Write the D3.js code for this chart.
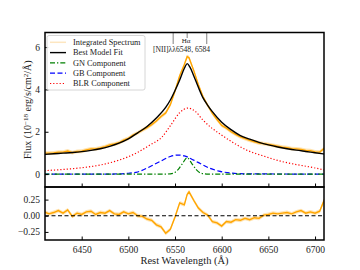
<!DOCTYPE html>
<html>
<head>
<meta charset="utf-8">
<script src="https://cdn.jsdelivr.net/npm/d3@7"></script>
<style>
  body { margin: 0; background: #fff; }
  svg text { font-family: "Liberation Serif", "DejaVu Serif", serif; fill: #222; }
</style>
</head>
<body>
<div class="chart"></div>
<script>
// observed spectrum + residuals (rest wavelength grid)
var specWave = [6410,6415,6420,6425,6430,6435,6440,6445,6450,6455,6460,6465,6470,6475,6480,6485,6490,6495,6500,6505,
  6510,6515,6520,6525,6530,6535,6540,6545,6550,6555,6560,6563,6565,6570,6575,6580,6585,6590,6595,6600,
  6605,6610,6615,6620,6625,6630,6635,6640,6645,6650,6655,6660,6665,6670,6675,6680,6685,6690,6695,6700,6705,6710];
var specFlux = [0.99,0.99,1.00,1.04,1.04,1.09,1.01,1.07,1.08,1.14,1.19,1.19,1.24,1.30,1.38,1.42,1.48,1.60,1.69,1.84,
  1.95,2.08,2.20,2.34,2.51,2.72,2.89,3.28,3.93,4.65,5.18,5.55,5.50,4.90,4.22,3.65,3.25,2.87,2.58,2.30,
  2.17,2.01,1.88,1.76,1.68,1.59,1.53,1.47,1.44,1.40,1.36,1.32,1.27,1.25,1.20,1.19,1.17,1.12,1.11,1.05,1.04,1.22];
var resid = [0.06,0.03,0.05,0.08,0.04,0.09,-0.01,0.04,0.02,0.06,0.07,0.02,0.05,0.04,0.08,0.03,0.02,0.06,0.03,0.05,
  0.00,-0.01,-0.05,-0.07,-0.14,-0.17,-0.27,-0.21,-0.02,0.20,0.17,0.33,0.37,0.24,0.12,0.05,0.01,-0.09,-0.11,-0.16,
  -0.09,-0.10,-0.06,-0.07,-0.04,-0.06,-0.03,-0.04,0.01,0.02,0.04,0.03,0.04,0.05,0.03,0.06,0.08,0.04,0.06,0.04,0.07,0.25];
var specErr = 0.09, residErr = 0.03;

// best fit model
var fitWave = [6410,6420,6430,6440,6450,6460,6470,6480,6490,6500,6510,6520,6530,6540,6545,6550,6555,6560,6563,6566,
  6570,6575,6580,6585,6590,6600,6610,6620,6630,6640,6650,6660,6670,6680,6690,6700,6710];
var fitFlux = [0.93,0.96,0.99,1.02,1.06,1.12,1.20,1.31,1.46,1.66,1.95,2.25,2.65,3.15,3.50,3.95,4.45,5.00,5.22,5.05,
  4.65,4.10,3.60,3.25,2.95,2.45,2.10,1.82,1.65,1.50,1.38,1.28,1.20,1.13,1.07,1.01,0.95];

// components
var blrWave = [6410,6430,6450,6470,6490,6500,6510,6523,6536,6546,6555,6564,6572,6580,6590,6598,6610,6627,6645,6663,6680,6699,6710];
var blrFlux = [0.16,0.22,0.30,0.43,0.66,0.82,1.03,1.37,1.75,2.35,2.90,3.12,2.95,2.55,2.15,1.90,1.55,1.13,0.85,0.61,0.45,0.30,0.19];
var gbWave = [6410,6480,6500,6510,6523,6535,6545,6553,6560,6570,6577,6587,6597,6610,6630,6710];
var gbFlux = [0,0,0.04,0.10,0.35,0.62,0.83,0.90,0.86,0.66,0.50,0.28,0.14,0.05,0.01,0];
var gnWave = [6410,6540,6548,6553,6558,6563,6568,6573,6578,6586,6710];
var gnFlux = [0,0,0.04,0.20,0.50,0.77,0.50,0.20,0.04,0,0];

var xTicks = [6450,6500,6550,6600,6650,6700];
var yTicks = [0,2,4,6];
var rTicks = [-0.25,0,0.25];
var lineMarks = [6548,6563,6584];

var legendItems = ["Integrated Spectrum","Best Model Fit","GN Component","GB Component","BLR Component"];

var W = 360, H = 270;
var L = 45, R = 324, T = 32.5, MID = 187, B = 240;

var svg = d3.select(".chart").append("svg")
    .attr("width", W).attr("height", H);

var x = d3.scaleLinear().domain([6410.7, 6709.6]).range([L, R]);
var y = d3.scaleLinear().domain([-0.61, 6.69]).range([MID, T]);
var yr = d3.scaleLinear().domain([-0.375, 0.445]).range([B, MID]);

svg.append("clipPath").attr("id", "ctop")
  .append("rect").attr("x", L).attr("y", T).attr("width", R - L).attr("height", MID - T);
svg.append("clipPath").attr("id", "cbot")
  .append("rect").attr("x", L).attr("y", MID).attr("width", R - L).attr("height", B - MID);

var gTop = svg.append("g").attr("clip-path", "url(#ctop)");
var gBot = svg.append("g").attr("clip-path", "url(#cbot)");

var spec = specWave.map(function (w, i) { return {w: w, f: specFlux[i], r: resid[i]}; });
function pairs(ws, fs) { return ws.map(function (w, i) { return [w, fs[i]]; }); }

// spectrum band + line
gTop.append("path").datum(spec)
  .attr("d", d3.area().x(function (d) { return x(d.w); })
    .y0(function (d) { return y(d.f - specErr); }).y1(function (d) { return y(d.f + specErr); }))
  .attr("fill", "#ffa500").attr("opacity", 0.3);
gTop.append("path").datum(spec)
  .attr("d", d3.line().x(function (d) { return x(d.w); }).y(function (d) { return y(d.f); }))
  .attr("fill", "none").attr("stroke", "#ffa500").attr("stroke-width", 1.4);

var mline = d3.line().x(function (d) { return x(d[0]); }).y(function (d) { return y(d[1]); })
  .curve(d3.curveMonotoneX);

gTop.append("path").datum(pairs(blrWave, blrFlux)).attr("d", mline)
  .attr("fill", "none").attr("stroke", "red").attr("stroke-width", 1.2).attr("stroke-dasharray", "1.2,2");
gTop.append("path").datum(pairs(gbWave, gbFlux)).attr("d", mline)
  .attr("fill", "none").attr("stroke", "blue").attr("stroke-width", 1.2).attr("stroke-dasharray", "5,2.5");
gTop.append("path").datum(pairs(gnWave, gnFlux)).attr("d", mline)
  .attr("fill", "none").attr("stroke", "green").attr("stroke-width", 1.2).attr("stroke-dasharray", "5,2,1.3,2");
gTop.append("path").datum(pairs(fitWave, fitFlux)).attr("d", mline)
  .attr("fill", "none").attr("stroke", "#000").attr("stroke-width", 1.4);

// line markers
lineMarks.forEach(function (w) {
  svg.append("line")
    .attr("x1", x(w)).attr("x2", x(w))
    .attr("y1", T).attr("y2", w === 6563 ? 37.5 : 44.5)
    .attr("stroke", "#000").attr("stroke-width", 1).attr("stroke-dasharray", "1,1");
});
svg.append("text").attr("x", x(6563) - 1).attr("y", 43.2).attr("text-anchor", "middle")
  .style("font-size", "7px").text("Hα");
svg.append("text").attr("x", x(6557)).attr("y", 51.5).attr("text-anchor", "middle")
  .style("font-size", "7.6px").text("[NII]λλ6548, 6584");

// residuals
gBot.append("path").datum(spec)
  .attr("d", d3.area().x(function (d) { return x(d.w); })
    .y0(function (d) { return yr(d.r - residErr); }).y1(function (d) { return yr(d.r + residErr); }))
  .attr("fill", "#ffa500").attr("opacity", 0.3);
gBot.append("path").datum(spec)
  .attr("d", d3.line().x(function (d) { return x(d.w); }).y(function (d) { return yr(d.r); }))
  .attr("fill", "none").attr("stroke", "#ffa500").attr("stroke-width", 1.4);
gBot.append("line").attr("x1", L).attr("x2", R).attr("y1", yr(0)).attr("y2", yr(0))
  .attr("stroke", "#000").attr("stroke-width", 1.2).attr("stroke-dasharray", "4,2.5");

// axes (ticks inward)
function styleAxis(g) {
  g.select(".domain").remove();
  g.selectAll("text").style("font-size", "9.5px").attr("fill", "#222");
  g.selectAll("line").attr("stroke", "#000");
}
svg.append("g").attr("transform", "translate(0," + MID + ")")
  .call(d3.axisTop(x).tickValues(xTicks).tickSize(3.5).tickFormat(""))
  .call(styleAxis);
svg.append("g").attr("transform", "translate(0," + B + ")")
  .call(d3.axisBottom(x).tickValues(xTicks).tickSize(-3.5).tickPadding(6).tickFormat(d3.format("d")))
  .call(styleAxis);
svg.append("g").attr("transform", "translate(" + L + ",0)")
  .call(d3.axisLeft(y).tickValues(yTicks).tickSize(-3.5).tickPadding(5).tickFormat(d3.format("d")))
  .call(styleAxis);
svg.append("g").attr("transform", "translate(" + L + ",0)")
  .call(d3.axisLeft(yr).tickValues(rTicks).tickSize(-3.5).tickPadding(5)
    .tickFormat(function (d) { return d3.format(".2f")(d).replace("-", "−"); }))
  .call(styleAxis);

// frames
[[T, MID], [MID, B]].forEach(function (p) {
  svg.append("rect").attr("x", L).attr("y", p[0]).attr("width", R - L).attr("height", p[1] - p[0])
    .attr("fill", "none").attr("stroke", "#000").attr("stroke-width", 1.5);
});

// axis labels
svg.append("text").attr("x", (L + R) / 2).attr("y", 264).attr("text-anchor", "middle")
  .style("font-size", "10.5px").text("Rest Wavelength (Å)");
var yl = svg.append("text").attr("transform", "translate(31," + ((T + MID) / 2) + ") rotate(-90)")
  .attr("text-anchor", "middle").style("font-size", "10px");
yl.append("tspan").text("Flux (10");
yl.append("tspan").attr("dy", -3.5).style("font-size", "7px").text("−18");
yl.append("tspan").attr("dy", 3.5).text(" erg/s/cm");
yl.append("tspan").attr("dy", -3.5).style("font-size", "7px").text("2");
yl.append("tspan").attr("dy", 3.5).text("/Å)");

// legend
var lg = svg.append("g");
lg.append("rect").attr("x", 47).attr("y", 35.5).attr("width", 98).attr("height", 54.5).attr("rx", 2)
  .attr("fill", "#fff").attr("fill-opacity", 0.85).attr("stroke", "#ccc").attr("stroke-width", 0.8);
var lstyle = [
  {c: "#fde6c0", d: null, w: 1.5},
  {c: "#000", d: null, w: 1.4},
  {c: "green", d: "5,2,1.3,2", w: 1.2},
  {c: "blue", d: "5,2.5", w: 1.2},
  {c: "red", d: "1.2,2", w: 1.2}
];
legendItems.forEach(function (t, i) {
  var yy = 42.3 + i * 10.3;
  lg.append("line").attr("x1", 50).attr("x2", 66).attr("y1", yy).attr("y2", yy)
    .attr("stroke", lstyle[i].c).attr("stroke-width", lstyle[i].w)
    .attr("stroke-dasharray", lstyle[i].d);
  lg.append("text").attr("x", 73).attr("y", yy + 2.8).style("font-size", "8.3px").text(t);
});
</script>
</body>
</html>
